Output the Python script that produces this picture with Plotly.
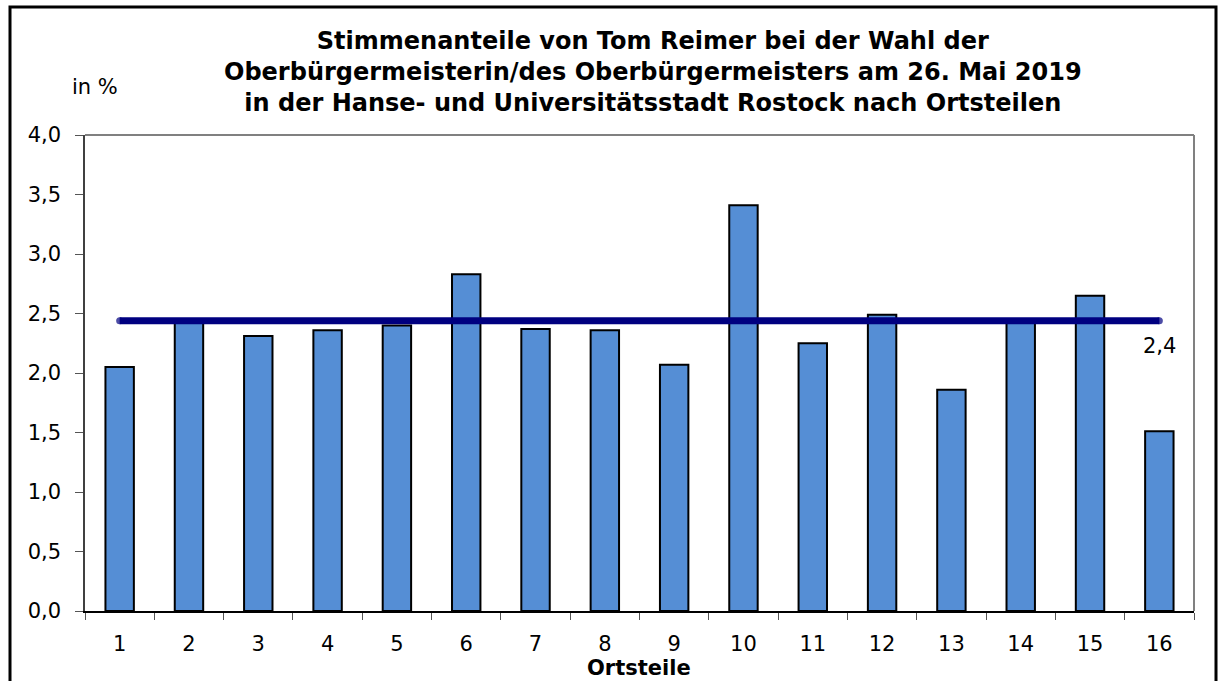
import plotly.graph_objects as go

# Data
ortsteile = [str(i) for i in range(1, 17)]
anteile = [2.05, 2.44, 2.31, 2.36, 2.40, 2.83, 2.37, 2.36, 2.07, 3.41, 2.25, 2.49, 1.86, 2.43, 2.65, 1.51]
gesamt = 2.44
gesamt_label = "2,4"
y_ticks = [0, 0.5, 1.0, 1.5, 2.0, 2.5, 3.0, 3.5, 4.0]

title_text = ("<b>Stimmenanteile von Tom Reimer bei der Wahl der<br>"
              "Oberbürgermeisterin/des Oberbürgermeisters am 26. Mai 2019<br>"
              "in der Hanse- und Universitätsstadt Rostock nach Ortsteilen</b>")

W, H = 1218, 681
L, R, T, B = 85, 1218 - 1194, 135, 681 - 611
pw, ph = W - L - R, H - T - B


def px(x):
    return (x - L) / pw


def py(y):
    return (H - B - y) / ph


FONT = "DejaVu Sans"

fig = go.Figure()
fig.add_trace(go.Bar(
    x=ortsteile, y=anteile, width=0.41,
    marker=dict(color="#558ed5", line=dict(color="black", width=2)),
    showlegend=False, hoverinfo="x+y",
))
# round end caps emulated by circle markers on the two line ends
cap_sizes = [7] + [0] * (len(ortsteile) - 2) + [7]
fig.add_trace(go.Scatter(
    x=ortsteile, y=[gesamt] * len(ortsteile), mode="lines+markers",
    line=dict(color="#000080", width=7),
    marker=dict(size=cap_sizes, color="#000080", line=dict(width=0)),
    showlegend=False,
))

fig.update_layout(
    width=W, height=H,
    margin=dict(l=L, r=R, t=T, b=B, pad=0),
    paper_bgcolor="white", plot_bgcolor="white",
    separators=",.",
    font=dict(family=FONT, size=21, color="black"),
    xaxis=dict(
        type="category", range=[-0.5, 15.5],
        showline=True, linecolor="black", linewidth=1.5,
        ticks="outside", tickson="boundaries", ticklen=7, tickcolor="#555",
        tickwidth=1, showgrid=False, zeroline=False,
        tickfont=dict(family=FONT, size=21), ticklabelstandoff=13,
    ),
    yaxis=dict(
        range=[0, 4], tickvals=y_ticks, tickformat=".1f",
        showline=True, linecolor="#404040", linewidth=1.5,
        ticks="outside", ticklen=8, tickcolor="#555", tickwidth=1,
        showgrid=False, zeroline=False,
        tickfont=dict(family=FONT, size=21), ticklabelstandoff=10,
    ),
    shapes=[
        dict(type="line", xref="paper", yref="paper", x0=0, x1=1, y0=1, y1=1,
             line=dict(color="#808080", width=2)),
        dict(type="line", xref="paper", yref="paper", x0=1, x1=1, y0=0, y1=1,
             line=dict(color="#808080", width=2)),
        dict(type="rect", xref="paper", yref="paper",
             x0=px(10), x1=px(1216), y0=py(700), y1=py(7),
             line=dict(color="black", width=3)),
    ],
    annotations=[
        dict(text=title_text, xref="paper", yref="paper", x=px(653), y=py(72),
             xanchor="center", yanchor="middle", showarrow=False,
             font=dict(family=FONT, size=24, color="black")),
        dict(text="in %", xref="paper", yref="paper", x=px(95), y=py(87),
             xanchor="center", yanchor="middle", showarrow=False,
             font=dict(family=FONT, size=21)),
        dict(text=gesamt_label, xref="paper", yref="paper", x=px(1159), y=py(346),
             xanchor="center", yanchor="middle", showarrow=False,
             font=dict(family=FONT, size=21)),
        dict(text="<b>Ortsteile</b>", xref="paper", yref="paper", x=px(639), y=py(668),
             xanchor="center", yanchor="middle", showarrow=False,
             font=dict(family=FONT, size=21)),
    ],
)

fig.write_html(
    "out.html",
    config={"displayModeBar": False},
    post_script="document.body.style.margin='0';document.body.style.overflow='hidden';",
)
